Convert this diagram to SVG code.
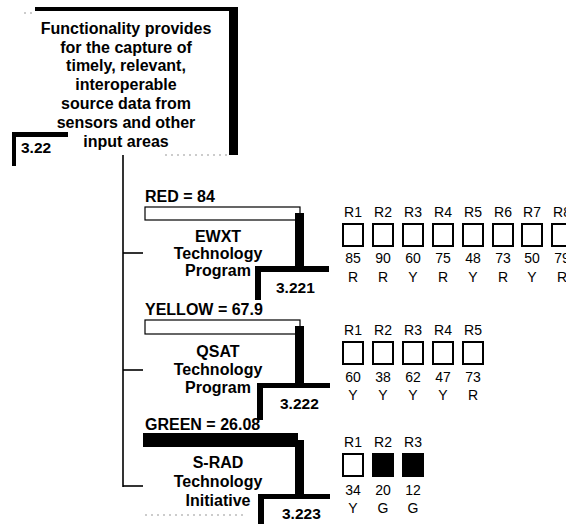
<svg xmlns="http://www.w3.org/2000/svg" width="566" height="524" viewBox="0 0 566 524">
  <style>
    .bar { fill: #000; }
    .outline { fill: #fff; stroke: #000; stroke-width: 1.2; }
    .title { font-family: "Liberation Sans", Arial, sans-serif; font-weight: bold; font-size: 16px; fill: #000; text-anchor: middle; }
    .label { font-family: "Liberation Sans", Arial, sans-serif; font-weight: bold; font-size: 16px; fill: #000; }
    .num { font-family: "Liberation Sans", Arial, sans-serif; font-weight: bold; font-size: 15.5px; fill: #000; }
    .rate { font-family: "Liberation Sans", Arial, sans-serif; font-size: 14px; fill: #000; text-anchor: middle; }
    .box { fill: #fff; stroke: #000; stroke-width: 2; }
    .boxon { fill: #000; stroke: #000; stroke-width: 2; }
    .link { fill: none; stroke: #000; stroke-width: 1.6; }
    .faint { fill: none; stroke: #999; stroke-width: 1; stroke-dasharray: 2 4; }
  </style>

  <!-- tree connectors -->
  <g id="connectors">
    <path class="link" d="M123 155 V487"/>
    <path class="link" d="M123 253 H143"/>
    <path class="link" d="M123 370 H143"/>
    <path class="link" d="M123 486 H143"/>
  </g>

  <!-- root function 3.22 -->
  <g id="node-3-22">
    <rect class="bar" x="35" y="7" width="203" height="4"/>
    <rect class="bar" x="229" y="7" width="9" height="148"/>
    <path class="faint" d="M165 155 H228"/>
    <path class="faint" d="M24 13 H34"/>
    <text class="title" x="126" y="34">Functionality provides</text>
    <text class="title" x="126" y="53">for the capture of</text>
    <text class="title" x="126" y="71">timely, relevant,</text>
    <text class="title" x="126" y="90">interoperable</text>
    <text class="title" x="126" y="109">source data from</text>
    <text class="title" x="126" y="128">sensors and other</text>
    <text class="title" x="126" y="147">input areas</text>
    <rect class="bar" x="12" y="132" width="56" height="5"/>
    <rect class="bar" x="12" y="132" width="4" height="34"/>
    <text class="num" x="21" y="153">3.22</text>
  </g>

  <!-- 3.221 EWXT -->
  <g id="node-3-221">
    <text class="label" x="145" y="202">RED = 84</text>
    <rect class="outline" x="145" y="207" width="155" height="13"/>
    <rect class="bar" x="295" y="213" width="9" height="58"/>
    <rect class="bar" x="255" y="266" width="74" height="6"/>
    <rect class="bar" x="255" y="266" width="6" height="34"/>
    <text class="title" x="218" y="242">EWXT</text>
    <text class="title" x="218" y="259">Technology</text>
    <text class="title" x="218" y="276">Program</text>
    <text class="num" x="276" y="293">3.221</text>
  </g>

  <!-- 3.222 QSAT -->
  <g id="node-3-222">
    <text class="label" x="145" y="315">YELLOW = 67.9</text>
    <rect class="outline" x="145" y="320" width="155" height="14"/>
    <rect class="bar" x="295" y="326" width="9" height="60"/>
    <rect class="bar" x="257" y="383" width="73" height="5"/>
    <rect class="bar" x="257" y="383" width="6" height="37"/>
    <text class="title" x="218" y="357">QSAT</text>
    <text class="title" x="218" y="375">Technology</text>
    <text class="title" x="218" y="393">Program</text>
    <text class="num" x="280" y="409">3.222</text>
  </g>

  <!-- 3.223 S-RAD -->
  <g id="node-3-223">
    <text class="label" x="145" y="430">GREEN = 26.08</text>
    <rect class="bar" x="143" y="433" width="155" height="14"/>
    <rect class="bar" x="295" y="440" width="9" height="57"/>
    <rect class="bar" x="258" y="494" width="72" height="5"/>
    <rect class="bar" x="258" y="494" width="6" height="30"/>
    <path class="faint" d="M145 515 H245"/>
    <text class="title" x="218" y="468">S-RAD</text>
    <text class="title" x="218" y="487">Technology</text>
    <text class="title" x="218" y="506">Initiative</text>
    <text class="num" x="282" y="519">3.223</text>
  </g>

  <!-- EWXT requirement ratings -->
  <g id="ratings-3-221">
    <text class="rate" x="353" y="217">R1</text><rect class="box" x="343" y="224" width="20" height="22"/><text class="rate" x="353" y="263">85</text><text class="rate" x="353" y="282">R</text>
    <text class="rate" x="383" y="217">R2</text><rect class="box" x="373" y="224" width="20" height="22"/><text class="rate" x="383" y="263">90</text><text class="rate" x="383" y="282">R</text>
    <text class="rate" x="413" y="217">R3</text><rect class="box" x="403" y="224" width="20" height="22"/><text class="rate" x="413" y="263">60</text><text class="rate" x="413" y="282">Y</text>
    <text class="rate" x="443" y="217">R4</text><rect class="box" x="433" y="224" width="20" height="22"/><text class="rate" x="443" y="263">75</text><text class="rate" x="443" y="282">R</text>
    <text class="rate" x="473" y="217">R5</text><rect class="box" x="463" y="224" width="20" height="22"/><text class="rate" x="473" y="263">48</text><text class="rate" x="473" y="282">Y</text>
    <text class="rate" x="503" y="217">R6</text><rect class="box" x="493" y="224" width="20" height="22"/><text class="rate" x="503" y="263">73</text><text class="rate" x="503" y="282">R</text>
    <text class="rate" x="532" y="217">R7</text><rect class="box" x="522" y="224" width="20" height="22"/><text class="rate" x="532" y="263">50</text><text class="rate" x="532" y="282">Y</text>
    <text class="rate" x="562" y="217">R8</text><rect class="box" x="552" y="224" width="20" height="22"/><text class="rate" x="562" y="263">79</text><text class="rate" x="562" y="282">R</text>
  </g>

  <!-- QSAT requirement ratings -->
  <g id="ratings-3-222">
    <text class="rate" x="353" y="335">R1</text><rect class="box" x="343" y="342" width="20" height="22"/><text class="rate" x="353" y="382">60</text><text class="rate" x="353" y="400">Y</text>
    <text class="rate" x="383" y="335">R2</text><rect class="box" x="373" y="342" width="20" height="22"/><text class="rate" x="383" y="382">38</text><text class="rate" x="383" y="400">Y</text>
    <text class="rate" x="413" y="335">R3</text><rect class="box" x="403" y="342" width="20" height="22"/><text class="rate" x="413" y="382">62</text><text class="rate" x="413" y="400">Y</text>
    <text class="rate" x="443" y="335">R4</text><rect class="box" x="433" y="342" width="20" height="22"/><text class="rate" x="443" y="382">47</text><text class="rate" x="443" y="400">Y</text>
    <text class="rate" x="473" y="335">R5</text><rect class="box" x="463" y="342" width="20" height="22"/><text class="rate" x="473" y="382">73</text><text class="rate" x="473" y="400">R</text>
  </g>

  <!-- S-RAD requirement ratings -->
  <g id="ratings-3-223">
    <text class="rate" x="353" y="447">R1</text><rect class="box" x="343" y="454" width="20" height="22"/><text class="rate" x="353" y="495">34</text><text class="rate" x="353" y="513">Y</text>
    <text class="rate" x="383" y="447">R2</text><rect class="boxon" x="373" y="454" width="20" height="22"/><text class="rate" x="383" y="495">20</text><text class="rate" x="383" y="513">G</text>
    <text class="rate" x="413" y="447">R3</text><rect class="boxon" x="403" y="454" width="20" height="22"/><text class="rate" x="413" y="495">12</text><text class="rate" x="413" y="513">G</text>
  </g>
</svg>
